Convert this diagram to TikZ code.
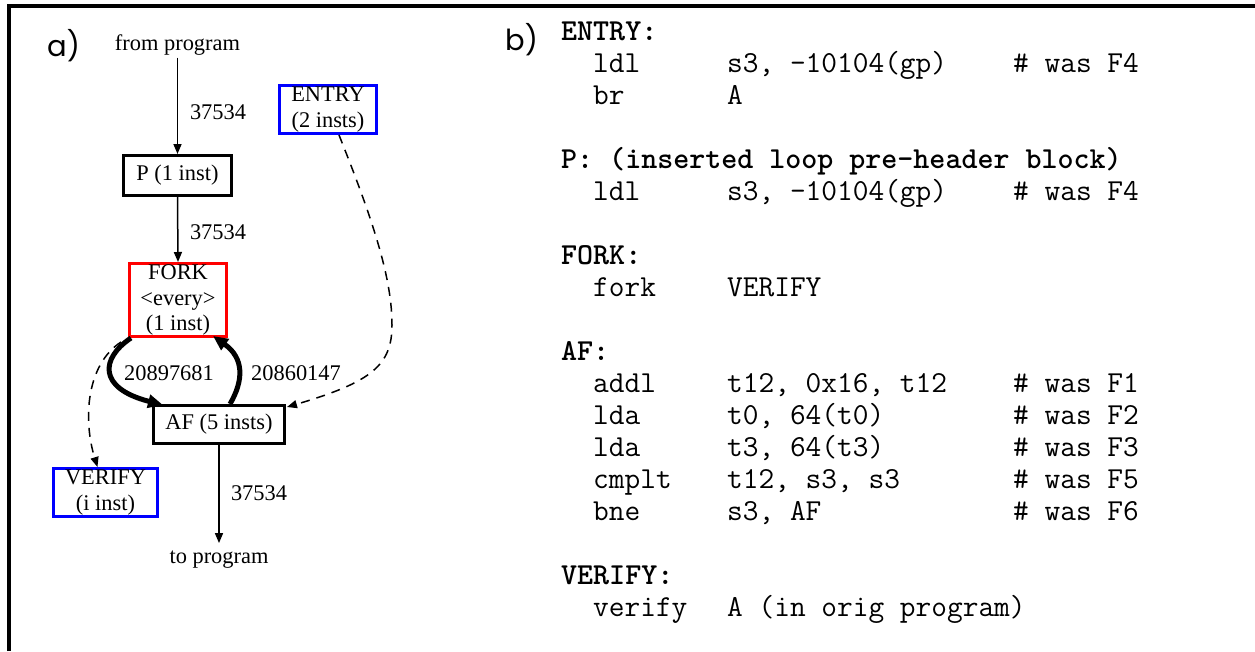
\documentclass[tikz,border=0pt]{standalone}
\usepackage{fontspec}
\setmainfont{Liberation Serif}
\newfontfamily\panelfont{Poppins}
\usetikzlibrary{arrows.meta,calc}

% one instruction: opcode, operands, comment in fixed columns
\newcommand{\asmline}[3]{\hspace*{32pt}\makebox[134pt][l]{#1}\makebox[286pt][l]{#2}#3}

\begin{document}
\begin{tikzpicture}[x=1pt,y=-1pt,
  every node/.style={font=\fontsize{22.4}{25.5}\selectfont, inner sep=2pt},
  block/.style={draw, line width=3pt, inner sep=0pt, align=center},
  tag/.style={font=\panelfont\fontsize{29}{30}\selectfont, anchor=base west, inner sep=0pt},
  code/.style={font=\ttfamily\fontsize{30.5}{32}\selectfont, anchor=base west, inner sep=0pt},
  flow/.style={line width=1.5pt, -{Triangle[length=10pt,width=8pt]}},
  hot/.style={line width=5pt, -{Triangle[length=15pt,width=13pt]}},
  spawn/.style={line width=1.5pt, dash pattern=on 9pt off 7pt, -{Triangle[length=10pt,width=8pt]}},
]
\useasboundingbox (0,0) rectangle (1255,651);

% frame
\draw[line width=3.4pt] (9,651) -- (9,6) -- (1255,6);

% panel tags
\node[tag] (taga) at (47,56) {a)};
\node[tag] (tagb) at (505,50) {b)};

% ---- control-flow graph ----
\node (from) at (177.5,45) {from program};
\node[block, minimum width=108pt, minimum height=40pt] (P) at (177.5,175.5) {P (1 inst)};
\node[block, draw=blue, minimum width=97pt, minimum height=48pt] (ENTRY) at (328,109.5) {ENTRY\\(2 insts)};
\node[block, draw=red, minimum width=97pt, minimum height=73pt] (FORK) at (178,300) {FORK\\<every>\\(1 inst)};
\node[block, minimum width=131pt, minimum height=38pt] (AF) at (219,424.5) {AF (5 insts)};
\node[block, draw=blue, minimum width=104pt, minimum height=48pt] (VERIFY) at (105.5,492.5) {VERIFY\\(i inst)};
\node (to) at (219,560) {to program};

\node (c1) at (218,112) {37534};
\node (c2) at (218,232) {37534};
\node (c3) at (259,493) {37534};
\node (c4) at (169,373) {20897681};
\node (c5) at (296,373) {20860147};

\draw[flow] (from.south) -- (P.north);
\draw[flow] (P.south) -- (FORK.north);
\draw[flow, shorten >=6pt] (AF.south) -- (to.north);

\coordinate (forkL) at ($(FORK.south west)+(3,0)$);
\coordinate (afL) at ($(AF.north west)+(11,1)$);
\coordinate (afR) at ($(AF.north west)+(78,0)$);
\coordinate (forkR) at ($(FORK.south west)+(85,-2)$);
\draw[hot] (forkL) .. controls (101,358) and (97,388) .. (afL);
\draw[hot] (afR) .. controls (244,380) and (244,358) .. (forkR);

\coordinate (entryB) at ($(ENTRY.south)+(11,0)$);
\coordinate (afNE) at ($(AF.north east)+(1,3)$);
\draw[spawn] (entryB) .. controls (375,225) and (392,280) .. (392,325)
  .. controls (392,365) and (372,382) .. (afNE);

\coordinate (forkSW) at ($(FORK.south west)+(-7,4)$);
\coordinate (verT) at ($(VERIFY.north)+(-8,0)$);
\draw[spawn] (forkSW) .. controls (86,365) and (83,420) .. (verT);

% ---- assembly listing ----
\node[code] (l0) at (561,40) {\bfseries ENTRY:};
\node[code] (l1) at (561,72) {\asmline{ldl}{s3, -10104(gp)}{\# was F4}};
\node[code] (l2) at (561,104) {\asmline{br}{A}{}};
\node[code] (l4) at (561,168) {\bfseries P: (inserted loop pre-header block)};
\node[code] (l5) at (561,200) {\asmline{ldl}{s3, -10104(gp)}{\# was F4}};
\node[code] (l7) at (561,264) {\bfseries FORK:};
\node[code] (l8) at (561,296) {\asmline{fork}{VERIFY}{}};
\node[code] (l10) at (561,360) {\bfseries AF:};
\node[code] (l11) at (561,392) {\asmline{addl}{t12, 0x16, t12}{\# was F1}};
\node[code] (l12) at (561,424) {\asmline{lda}{t0, 64(t0)}{\# was F2}};
\node[code] (l13) at (561,456) {\asmline{lda}{t3, 64(t3)}{\# was F3}};
\node[code] (l14) at (561,488) {\asmline{cmplt}{t12, s3, s3}{\# was F5}};
\node[code] (l15) at (561,520) {\asmline{bne}{s3, AF}{\# was F6}};
\node[code] (l17) at (561,584) {\bfseries VERIFY:};
\node[code] (l18) at (561,616) {\asmline{verify}{A (in orig program)}{}};
\end{tikzpicture}
\end{document}
